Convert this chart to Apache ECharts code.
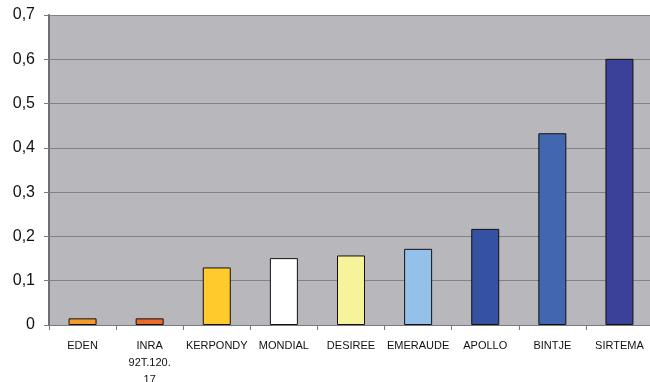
<!DOCTYPE html>
<html>
<head>
<meta charset="utf-8">
<script src="https://cdn.jsdelivr.net/npm/echarts@6/dist/echarts.min.js"></script>
<style>
  html, body { margin: 0; padding: 0; background: #ffffff; overflow: hidden; }
  #chart { width: 650px; height: 382px; }
</style>
</head>
<body>
<div id="chart"></div>
<script>
// Potato varieties and their measured values
const varieties = ['EDEN', 'INRA\n92T.120.\n17', 'KERPONDY', 'MONDIAL', 'DESIREE', 'EMERAUDE', 'APOLLO', 'BINTJE', 'SIRTEMA'];
const values = [0.015, 0.015, 0.130, 0.151, 0.157, 0.172, 0.217, 0.433, 0.601];
const barColors = ['#f39a2c', '#ea6a2a', '#ffca2c', '#ffffff', '#f7f39a', '#93c1e9', '#3551a1', '#4366b0', '#3b4199'];

const chart = echarts.init(document.getElementById('chart'));
chart.setOption({
  animation: false,
  backgroundColor: '#ffffff',
  grid: {
    left: 49, right: -3, top: 15, bottom: 57,
    outerBoundsMode: 'none', containLabel: false,
    show: true, backgroundColor: '#b8b8bc', borderWidth: 0
  },
  xAxis: {
    type: 'category',
    data: varieties,
    axisLine: { show: true, lineStyle: { color: '#7a7a7e', width: 1 } },
    axisTick: { show: true, alignWithLabel: false, length: 5, lineStyle: { color: '#7a7a7e' } },
    axisLabel: {
      interval: 0, color: '#111', fontFamily: 'Liberation Sans, Arial, sans-serif',
      fontSize: 11, lineHeight: 17, margin: 12
    }
  },
  yAxis: {
    type: 'value',
    min: 0, max: 0.7, interval: 0.1,
    axisLine: { show: true, lineStyle: { color: '#6e6e72', width: 2 } },
    axisTick: { show: true, length: 5, lineStyle: { color: '#7a7a7e' } },
    splitLine: { show: true, lineStyle: { color: '#828286', width: 1 } },
    axisLabel: {
      color: '#111', fontFamily: 'Liberation Sans, Arial, sans-serif', fontSize: 16, margin: 14,
      formatter: v => (Math.round(v * 10) / 10).toString().replace('.', ',')
    }
  },
  series: [{
    type: 'bar',
    data: values.map((v, i) => ({ value: v, itemStyle: { color: barColors[i] } })),
    barWidth: 28,
    itemStyle: { borderColor: '#111', borderWidth: 1 }
  }]
});
</script>
</body>
</html>
